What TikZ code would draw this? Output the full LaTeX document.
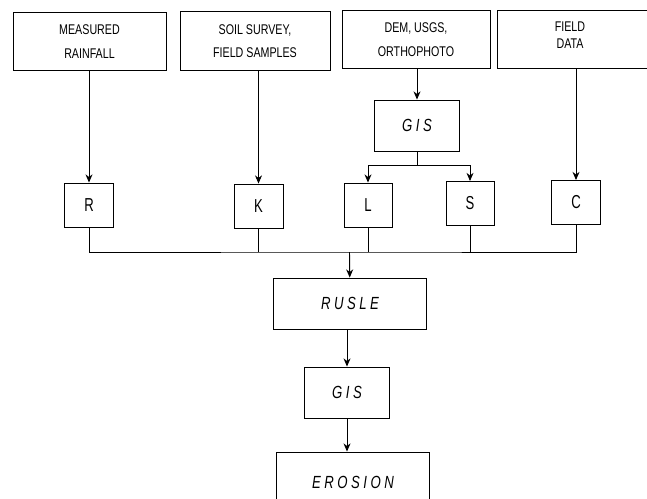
\documentclass[tikz,border=0pt]{standalone}
\usepackage{fontspec}
\setmainfont[FakeStretch=0.76]{Liberation Sans}
\newfontfamily\tallfont[FakeStretch=0.7]{Liberation Sans}
\newfontfamily\spacedfont[FakeStretch=0.75,LetterSpace=20]{Liberation Sans}
\usetikzlibrary{arrows.meta}

\begin{document}
\begin{tikzpicture}[x=0.03cm, y=-0.03cm, line width=0.8pt,
  srcbox/.style={draw, minimum width=4.5cm, minimum height=1.76cm, align=center, font=\fontsize{12}{14}\selectfont},
  factor/.style={draw, minimum width=1.47cm, minimum height=1.32cm, font=\tallfont\fontsize{16}{18}\selectfont},
  stepbox/.style={draw, minimum width=4.59cm, minimum height=1.53cm, font=\spacedfont\itshape\fontsize{15}{17}\selectfont},
  gisbox/.style={stepbox, minimum width=2.55cm},
  flow/.style={-{Stealth[length=7pt,width=6pt]}}]
\useasboundingbox (0,0) rectangle (647,498);
\clip (0,0) rectangle (647,498);

\node[srcbox, minimum width=4.59cm] (rain) at (89.5,41.5) {MEASURED\\[6pt]RAINFALL};
\node[srcbox] (soil) at (255,41) {SOIL SURVEY,\\[6pt]FIELD SAMPLES};
\node[srcbox, minimum width=4.44cm] (dem) at (416,39.5) {DEM, USGS,\\[6pt]ORTHOPHOTO};
\node[srcbox, minimum width=5.04cm, minimum height=1.74cm] (field) at (581,39) {};
\node[font=\fontsize{12}{14}\selectfont, align=center] (fieldtext) at (570,35) {FIELD\\[1pt]DATA};

\node[gisbox] (gisa) at (417,125.5) {GIS};

\node[factor] (R) at (89,205) {R};
\node[factor] (K) at (258.5,206) {K};
\node[factor, minimum width=1.44cm] (L) at (368,205) {L};
\node[factor, minimum width=1.44cm] (S) at (470,203.5) {S};
\node[factor] (C) at (576,202.5) {C};

\node[stepbox] (rusle) at (350,303.5) {RUSLE};
\node[gisbox] (gisb) at (347,392.5) {GIS};
\node[stepbox, minimum height=1.8cm] (erosion) at (353,482) {EROSION};

\coordinate (split) at (417,165);
\coordinate (bus) at (349.5,252);

\draw[flow] (rain.south -| R) -- (R);
\draw[flow] (soil.south -| K) -- (K);
\draw[flow] (dem.south -| gisa) -- (gisa);
\draw[flow] (field.south -| C) -- (C);

\draw (gisa) -- (split);
\draw[flow] (split) -| (L);
\draw[flow] (split) -| (S);

\draw (R) |- (bus) -| (C);
\draw (K) -- (K |- bus);
\draw (L) -- (L |- bus);
\draw (S) -- (S |- bus);

\draw[flow] (bus) -- (rusle);
\draw[flow] (rusle.south -| gisb) -- (gisb);
\draw[flow] (gisb) -- (gisb |- erosion.north);
\end{tikzpicture}
\end{document}
